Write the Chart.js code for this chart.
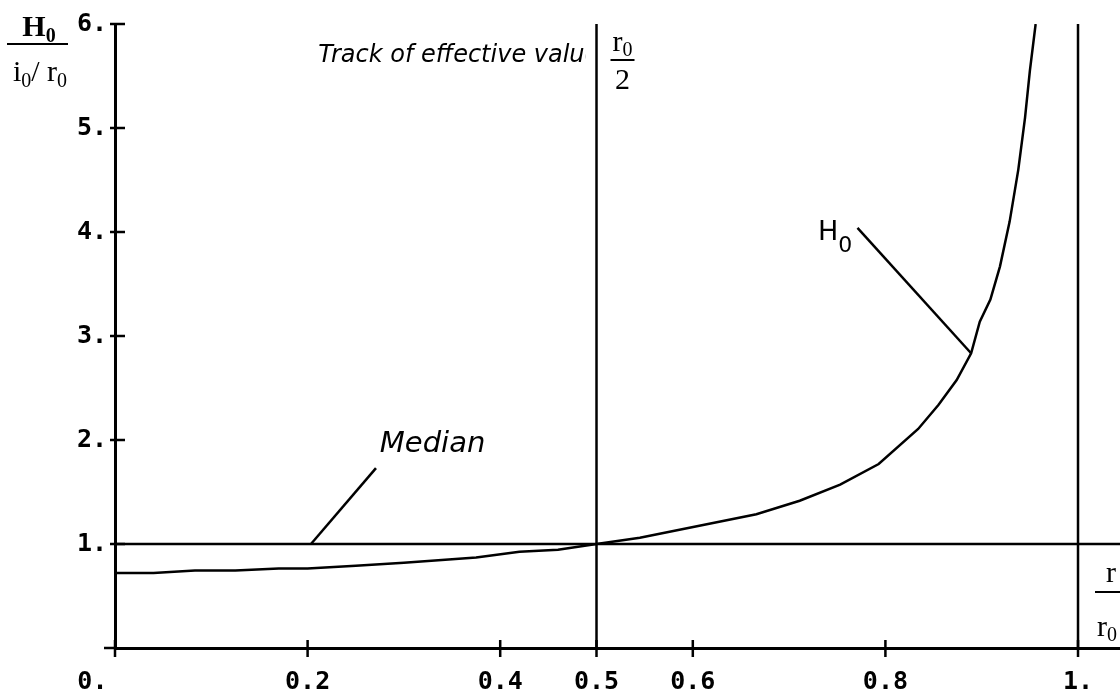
<!DOCTYPE html>
<html>
<head>
<meta charset="utf-8">
<script src="https://cdn.jsdelivr.net/npm/chart.js@4.4.1/dist/chart.umd.min.js"></script>
<style>
  html, body { margin: 0; padding: 0; background: #fff; }
  #wrap { width: 1120px; height: 691px; position: relative; }
</style>
</head>
<body>
<div id="wrap"><canvas id="grafico"></canvas></div>
<script>
// Curva H0 / (i0/r0) em função de r/r0
const rRatio  = [0, 0.04, 0.083, 0.125, 0.17, 0.2, 0.25, 0.3, 0.375, 0.42, 0.46, 0.5,
                 0.545, 0.666, 0.711, 0.753, 0.793, 0.834, 0.855, 0.874, 0.889, 0.898,
                 0.909, 0.919, 0.929, 0.938, 0.945, 0.95, 0.956];
const h0Ratio = [0.72, 0.72, 0.745, 0.745, 0.765, 0.765, 0.79, 0.82, 0.87, 0.925, 0.945, 1.0,
                 1.06, 1.286, 1.416, 1.57, 1.769, 2.106, 2.337, 2.577, 2.834, 3.137,
                 3.35, 3.67, 4.1, 4.6, 5.1, 5.55, 6.0];

// Eixos
const xTickValues = [0, 0.2, 0.4, 0.5, 0.6, 0.8, 1];
const xTickLabels = ['0.', '0.2', '0.4', '0.5', '0.6', '0.8', '1.'];
const yTickValues = [1, 2, 3, 4, 5, 6];
const yTickLabels = ['1.', '2.', '3.', '4.', '5.', '6.'];
const xRange = [0, 1.0436];
const yRange = [0, 6];

// Linhas de referência e setas dos rótulos
const medianValue = 1;
const verticalMarks = [0.5, 1];
const medianPointer = [[0.2035, 1], [0.271, 1.73]];
const h0Pointer = [[0.771, 4.04], [0.889, 2.834]];

const black = '#000';
const serif = '"Liberation Serif", "DejaVu Serif", serif';
const sans = '"DejaVu Sans", Verdana, sans-serif';

const linha = pts => ({
  data: pts.map(p => ({ x: p[0], y: p[1] })),
  showLine: true,
  borderColor: black,
  borderWidth: 2.5,
  pointRadius: 0,
  tension: 0
});

// texto com subscritos
function escrever(ctx, partes, x, y, align) {
  let w = 0;
  partes.forEach(p => { ctx.font = p.font; w += ctx.measureText(p.t).width; });
  let cx = align === 'center' ? x - w / 2 : x;
  partes.forEach(p => {
    ctx.font = p.font;
    ctx.fillText(p.t, cx, y + (p.dy || 0));
    cx += ctx.measureText(p.t).width;
  });
}

function barra(ctx, x1, x2, y) {
  ctx.beginPath();
  ctx.moveTo(x1, y);
  ctx.lineTo(x2, y);
  ctx.stroke();
}

// marcas que cruzam os eixos
const marcasEixos = {
  id: 'marcasEixos',
  afterDatasetsDraw(chart) {
    const { ctx, chartArea: a, scales: { x, y } } = chart;
    ctx.save();
    ctx.strokeStyle = black;
    ctx.lineWidth = 2.5;
    ctx.beginPath();
    x.ticks.forEach(t => {
      const px = x.getPixelForValue(t.value);
      ctx.moveTo(px, a.bottom - 8);
      ctx.lineTo(px, a.bottom + 9);
    });
    y.ticks.forEach(t => {
      const py = y.getPixelForValue(t.value);
      ctx.moveTo(a.left - 5, py);
      ctx.lineTo(a.left + 10, py);
    });
    ctx.moveTo(a.left - 11, a.bottom);
    ctx.lineTo(a.left, a.bottom);
    ctx.moveTo(a.left, a.bottom);
    ctx.lineTo(a.left, a.bottom + 7);
    ctx.stroke();
    ctx.restore();
  }
};

// rótulos e frações
const rotulos = {
  id: 'rotulos',
  afterDraw(chart) {
    const { ctx, chartArea: a, scales: { x, y } } = chart;
    const px = v => x.getPixelForValue(v);
    const py = v => y.getPixelForValue(v);
    ctx.save();
    ctx.fillStyle = black;
    ctx.strokeStyle = black;
    ctx.lineWidth = 2;
    ctx.textBaseline = 'alphabetic';

    // título do eixo y: H0 / (i0/r0)
    escrever(ctx, [
      { t: 'H', font: 'bold 30px ' + serif },
      { t: '0', font: 'bold 20px ' + serif, dy: 6 }
    ], 39, 36, 'center');
    barra(ctx, 7, 68, 44);
    escrever(ctx, [
      { t: 'i', font: '30px ' + serif },
      { t: '0', font: '20px ' + serif, dy: 6 },
      { t: '/ r', font: '30px ' + serif },
      { t: '0', font: '20px ' + serif, dy: 6 }
    ], 40, 81, 'center');

    // r0 / 2
    const cMeio = px(0.5) + 26;
    escrever(ctx, [
      { t: 'r', font: '30px ' + serif },
      { t: '0', font: '20px ' + serif, dy: 5 }
    ], cMeio, 51, 'center');
    barra(ctx, cMeio - 12, cMeio + 12, 60);
    escrever(ctx, [{ t: '2', font: '30px ' + serif }], cMeio, 89, 'center');

    // r / r0
    const cFim = px(1) + 29;
    escrever(ctx, [{ t: 'r', font: '30px ' + serif }], cFim + 4, a.bottom - 66, 'center');
    barra(ctx, cFim - 12, cFim + 14, a.bottom - 56);
    escrever(ctx, [
      { t: 'r', font: '30px ' + serif },
      { t: '0', font: '20px ' + serif, dy: 5 }
    ], cFim, a.bottom - 12, 'center');

    // texto cortado pela linha r0/2
    ctx.save();
    ctx.beginPath();
    ctx.rect(0, 0, px(0.5) - 11, a.bottom);
    ctx.clip();
    ctx.font = 'italic 24px ' + sans;
    ctx.fillText('Track of effective value', px(0.211), 62);
    ctx.restore();

    ctx.font = 'italic 29px ' + sans;
    ctx.fillText('Median', px(0.275), py(1.885));

    escrever(ctx, [
      { t: 'H', font: '27px ' + sans },
      { t: '0', font: '22px ' + sans, dy: 12 }
    ], px(0.73), py(3.92), 'left');
    ctx.restore();
  }
};

const tickFont = { family: '"DejaVu Sans Mono", monospace', weight: 'bold', size: 25 };

new Chart(document.getElementById('grafico'), {
  type: 'scatter',
  data: {
    datasets: [
      linha(rRatio.map((r, i) => [r, h0Ratio[i]])),
      linha([[xRange[0], medianValue], [xRange[1], medianValue]]),
      ...verticalMarks.map(v => linha([[v, yRange[0]], [v, yRange[1]]])),
      linha(medianPointer),
      linha(h0Pointer)
    ]
  },
  options: {
    responsive: true,
    maintainAspectRatio: false,
    animation: false,
    layout: { padding: { top: 24, right: 0, bottom: 0, left: 0 } },
    plugins: {
      legend: { display: false },
      tooltip: { enabled: false }
    },
    scales: {
      x: {
        type: 'linear',
        min: xRange[0],
        max: xRange[1],
        afterBuildTicks: s => { s.ticks = xTickValues.map(v => ({ value: v })); },
        afterFit: s => { s.height = 43; },
        grid: { display: false, drawTicks: false },
        border: { display: true, color: black, width: 3 },
        ticks: {
          autoSkip: false,
          maxRotation: 0,
          padding: 19,
          color: black,
          font: tickFont,
          callback: v => {
            const i = xTickValues.indexOf(v);
            return i === 0 ? xTickLabels[i] + '   ' : xTickLabels[i];
          }
        }
      },
      y: {
        type: 'linear',
        min: yRange[0],
        max: yRange[1],
        afterBuildTicks: s => { s.ticks = yTickValues.map(v => ({ value: v })); },
        afterFit: s => { s.width = 115; },
        grid: { display: false, drawTicks: false },
        border: { display: true, color: black, width: 3 },
        ticks: {
          padding: 8,
          color: black,
          font: tickFont,
          callback: v => yTickLabels[yTickValues.indexOf(v)]
        }
      }
    }
  },
  plugins: [marcasEixos, rotulos]
});
</script>
</body>
</html>
